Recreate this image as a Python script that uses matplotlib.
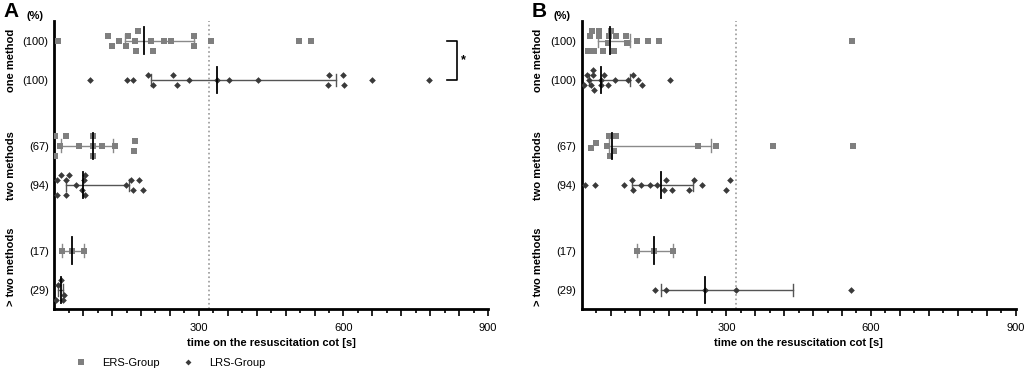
import matplotlib.pyplot as plt
from matplotlib.lines import Line2D

plt.rcParams['font.family'] = ['Liberation Sans', 'DejaVu Sans']

# row labels (share of patients, %)
pct_labels = ['(100)', '(100)', '(67)', '(94)', '(17)', '(29)']
group_names = ['one method', 'two methods', '> two methods']

# ---- Panel A: times [s] per row (ERS/LRS alternating) ----
a_one_ers = [8, 112, 120, 134, 149, 153, 167, 169, 173, 200, 205, 228, 242, 289, 289, 326, 508, 533]
a_one_ers_dy = [0, -1, 1, 0, 1, -1, 0, 2, -2, 0, 2, 0, 0, -1, 1, 0, 0, 0]
a_one_lrs = [74, 151, 163, 194, 205, 246, 254, 280, 337, 362, 422, 569, 568, 599, 601, 659, 778]
a_one_lrs_dy = [0, 0, 0, -1, 1, -1, 1, 0, 0, 0, 0, -1, 1, -1, 1, 0, 0]
a_two_ers = [2, 2, 12, 24, 52, 81, 80, 81, 100, 127, 167, 165]
a_two_ers_dy = [-2, 2, 0, -2, 0, -2, 0, 2, 0, 0, -1, 1]
a_two_lrs = [6, 6, 14, 31, 25, 25, 46, 57, 61, 64, 64, 148, 160, 163, 176, 185]
a_two_lrs_dy = [-1, 2, -2, -2, -1, 2, 0, 1, -1, -2, 2, 0, -1, 1, -1, 1]
a_more_ers = [16, 37, 62]
a_more_ers_dy = [0, 0, 0]
a_more_lrs = [14, 8, 20, 4, 19]
a_more_lrs_dy = [-2, -1, 1, 2, 2]
# median, q1, q3 per row
a_median = [187, 337, 81, 59, 37, 14]
a_q1 = [147, 200, 14, 25, 16, 8]
a_q3 = [289, 584, 122, 155, 62, 19]

# ---- Panel B ----
b_one_ers = [21, 36, 60, 18, 36, 57, 72, 91, 54, 94, 115, 138, 160, 14, 25, 45, 67, 560]
b_one_ers_dy = [-2, -2, -2, -1, -1, -1, -1, -1, 0.5, 0.5, 0, 0, 0, 2, 2, 2, 2, 0]
b_one_lrs = [5, 10, 15, 23, 23, 20, 26, 39, 39, 46, 55, 68, 95, 106, 117, 125, 184]
b_one_lrs_dy = [1, -1, 0, -2, -1, 1, 2, 0, 1, -1, 1, 0, 0, -1, 0, 1, 0]
b_two_ers = [20, 30, 53, 56, 59, 66, 72, 242, 278, 397, 562]
b_two_ers_dy = [0.5, -0.5, 0, -2, 2, 1, -2, 0, 0, 0, 0]
b_two_lrs = [7, 27, 88, 104, 106, 122, 141, 157, 175, 170, 187, 222, 233, 249, 300, 307]
b_two_lrs_dy = [0, 0, 0, -1, 1, 0, 0, 0, -1, 1, 1, 1, -1, 0, 1, -1]
b_more_ers = [115, 150, 190]
b_more_ers_dy = [0, 0, 0]
b_more_lrs = [152, 175, 256, 320, 558]
b_more_lrs_dy = [0, 0, 0, 0, 0]
b_median = [59, 39, 62, 164, 150, 256]
b_q1 = [33, 15, 56, 104, 115, 164]
b_q3 = [100, 100, 268, 231, 190, 438]

ref_time = 320
rows = [0.49, 1.475, 3.12, 4.1, 5.74, 6.725]
jit = 0.125

ERS_C = '#7f7f7f'
LRS_C = '#3a3a3a'


def draw_panel(ax, series, med, q1, q3):
    for i, (vals, dys) in enumerate(series):
        y0 = rows[i]
        ers = i % 2 == 0
        ys = [y0 + d * jit for d in dys]
        if ers:
            ax.plot(vals, ys, 's', color=ERS_C, ms=4.8, mew=0, zorder=3)
            lc = '#8a8a8a'
        else:
            ax.plot(vals, ys, 'D', color=LRS_C, ms=3.4, mew=0, zorder=3)
            lc = '#555555'
        ax.plot([q1[i], q3[i]], [y0, y0], color=lc, lw=1, zorder=2)
        ax.plot([q1[i], q1[i]], [y0 - 0.16, y0 + 0.16], color=lc, lw=1, zorder=2)
        ax.plot([q3[i], q3[i]], [y0 - 0.16, y0 + 0.16], color=lc, lw=1, zorder=2)
        ax.plot([med[i], med[i]], [y0 - 0.33, y0 + 0.33], color='black', lw=1.3, zorder=4)

    ax.axvline(ref_time, color='#999999', ls=':', lw=1.2, zorder=1)
    ax.set_xlim(0, 900)
    ax.set_ylim(7.2, 0)
    ax.set_xticks(range(60, 901, 60), minor=False)
    ax.set_xticks(range(30, 901, 60), minor=True)
    ax.set_xticklabels(['300' if t == 300 else '600' if t == 600 else '900' if t == 900 else ''
                        for t in range(60, 901, 60)], fontsize=8)
    ax.tick_params(axis='x', which='major', length=5, width=1.2, pad=5)
    ax.tick_params(axis='x', which='minor', length=3, width=1.2)
    ax.set_yticks(rows)
    ax.set_yticklabels(pct_labels, fontsize=8)
    ax.tick_params(axis='y', length=0, pad=4)
    for s in ['top', 'right']:
        ax.spines[s].set_visible(False)
    for s in ['left', 'bottom']:
        ax.spines[s].set_linewidth(2)
    ax.set_xlabel('time on the resuscitation cot [s]', fontsize=8, fontweight='bold', labelpad=4)
    ax.text(-0.045, 1.017, '(%)', transform=ax.transAxes, fontsize=8, fontweight='bold',
            ha='center', va='center')
    centers = [(rows[0] + rows[1]) / 2, (rows[2] + rows[3]) / 2, (rows[4] + rows[5]) / 2 - 0.1]
    for name, yc in zip(group_names, centers):
        ax.text(-0.1, yc, name, transform=ax.get_yaxis_transform(), rotation=90,
                fontsize=8, fontweight='bold', ha='center', va='center')


fig = plt.figure(figsize=(10.26, 3.72), dpi=100)
axA = fig.add_axes([0.0529, 0.1694, 0.4228, 0.7741])
axB = fig.add_axes([0.567, 0.1694, 0.4228, 0.7741])

draw_panel(axA,
           [(a_one_ers, a_one_ers_dy), (a_one_lrs, a_one_lrs_dy),
            (a_two_ers, a_two_ers_dy), (a_two_lrs, a_two_lrs_dy),
            (a_more_ers, a_more_ers_dy), (a_more_lrs, a_more_lrs_dy)],
           a_median, a_q1, a_q3)
draw_panel(axB,
           [(b_one_ers, b_one_ers_dy), (b_one_lrs, b_one_lrs_dy),
            (b_two_ers, b_two_ers_dy), (b_two_lrs, b_two_lrs_dy),
            (b_more_ers, b_more_ers_dy), (b_more_lrs, b_more_lrs_dy)],
           b_median, b_q1, b_q3)

# significance bracket in panel A
axA.plot([814, 836, 836, 814], [rows[0], rows[0], rows[1], rows[1]],
         color='black', lw=1.2, clip_on=False)
axA.text(848, (rows[0] + rows[1]) / 2, '*', fontsize=9, fontweight='bold',
         ha='center', va='center')

fig.text(0.003, 0.995, 'A', fontsize=15, fontweight='bold', ha='left', va='top')
fig.text(0.518, 0.995, 'B', fontsize=15, fontweight='bold', ha='left', va='top')

handles = [Line2D([], [], marker='s', color=ERS_C, ls='none', ms=4.5, mew=0),
           Line2D([], [], marker='D', color=LRS_C, ls='none', ms=3, mew=0)]
fig.legend(handles, ['ERS-Group', 'LRS-Group'], loc='lower left', bbox_to_anchor=(0.058, -0.015),
           ncol=2, frameon=False, fontsize=8, handletextpad=0.9, columnspacing=1.6)

fig.savefig('out.png', dpi=100)
